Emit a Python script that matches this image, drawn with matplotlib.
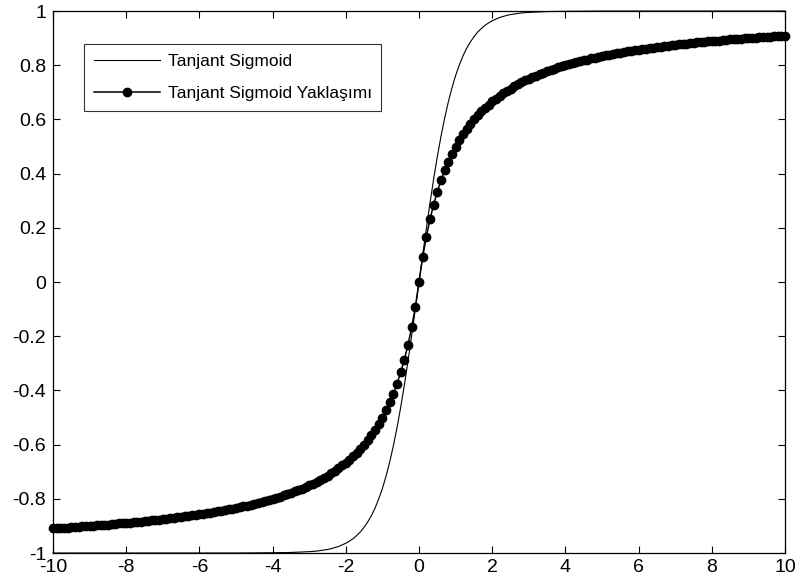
import numpy as np
import matplotlib
matplotlib.use("Agg")
import matplotlib.pyplot as plt
from matplotlib.ticker import FuncFormatter

plt.rcParams['font.family'] = ['Liberation Sans', 'DejaVu Sans']
plt.rcParams['axes.unicode_minus'] = False

# Approximation samples, x = -10 .. 10 step 0.1
x_approx = np.linspace(-10, 10, 201)
y_approx = [
    -0.909, -0.908, -0.907, -0.907, -0.906, -0.905, -0.904, -0.903, -0.902, -0.901,
    -0.900, -0.899, -0.898, -0.897, -0.896, -0.895, -0.894, -0.892, -0.891, -0.890,
    -0.889, -0.888, -0.886, -0.885, -0.884, -0.882, -0.881, -0.880, -0.878, -0.877,
    -0.875, -0.873, -0.872, -0.870, -0.868, -0.867, -0.865, -0.863, -0.861, -0.859,
    -0.857, -0.855, -0.853, -0.851, -0.848, -0.846, -0.844, -0.841, -0.839, -0.836,
    -0.833, -0.831, -0.828, -0.825, -0.821, -0.818, -0.815, -0.811, -0.808, -0.804,
    -0.800, -0.796, -0.792, -0.787, -0.783, -0.778, -0.773, -0.767, -0.762, -0.756,
    -0.750, -0.744, -0.737, -0.730, -0.722, -0.714, -0.706, -0.697, -0.688, -0.677,
    -0.667, -0.655, -0.643, -0.630, -0.615, -0.600, -0.583, -0.565, -0.545, -0.524,
    -0.500, -0.474, -0.444, -0.412, -0.375, -0.333, -0.286, -0.231, -0.167, -0.091,
    0.000,
    0.091, 0.167, 0.231, 0.286, 0.333, 0.375, 0.412, 0.444, 0.474, 0.500,
    0.524, 0.545, 0.565, 0.583, 0.600, 0.615, 0.630, 0.643, 0.655, 0.667,
    0.677, 0.688, 0.697, 0.706, 0.714, 0.722, 0.730, 0.737, 0.744, 0.750,
    0.756, 0.762, 0.767, 0.773, 0.778, 0.783, 0.787, 0.792, 0.796, 0.800,
    0.804, 0.808, 0.811, 0.815, 0.818, 0.821, 0.825, 0.828, 0.831, 0.833,
    0.836, 0.839, 0.841, 0.844, 0.846, 0.848, 0.851, 0.853, 0.855, 0.857,
    0.859, 0.861, 0.863, 0.865, 0.867, 0.868, 0.870, 0.872, 0.873, 0.875,
    0.877, 0.878, 0.880, 0.881, 0.882, 0.884, 0.885, 0.886, 0.888, 0.889,
    0.890, 0.891, 0.892, 0.894, 0.895, 0.896, 0.897, 0.898, 0.899, 0.900,
    0.901, 0.902, 0.903, 0.904, 0.905, 0.906, 0.907, 0.907, 0.908, 0.909,
]

# Tangent sigmoid curve samples
x_tanh = [-10, -5, -4, -3.5,
          -3.0, -2.9, -2.8, -2.7, -2.6, -2.5, -2.4, -2.3, -2.2, -2.1,
          -2.0, -1.9, -1.8, -1.7, -1.6, -1.5, -1.4, -1.3, -1.2, -1.1,
          -1.0, -0.9, -0.8, -0.7, -0.6, -0.5, -0.4, -0.3, -0.2, -0.1,
          0.0,
          0.1, 0.2, 0.3, 0.4, 0.5, 0.6, 0.7, 0.8, 0.9, 1.0,
          1.1, 1.2, 1.3, 1.4, 1.5, 1.6, 1.7, 1.8, 1.9, 2.0,
          2.1, 2.2, 2.3, 2.4, 2.5, 2.6, 2.7, 2.8, 2.9, 3.0,
          3.5, 4, 5, 10]
y_tanh = [-1.0, -1.0, -0.999, -0.998,
          -0.995, -0.994, -0.993, -0.991, -0.989, -0.987, -0.984, -0.980, -0.976, -0.970,
          -0.964, -0.956, -0.947, -0.935, -0.922, -0.905, -0.885, -0.862, -0.834, -0.800,
          -0.762, -0.716, -0.664, -0.604, -0.537, -0.462, -0.380, -0.291, -0.197, -0.100,
          0.000,
          0.100, 0.197, 0.291, 0.380, 0.462, 0.537, 0.604, 0.664, 0.716, 0.762,
          0.800, 0.834, 0.862, 0.885, 0.905, 0.922, 0.935, 0.947, 0.956, 0.964,
          0.970, 0.976, 0.980, 0.984, 0.987, 0.989, 0.991, 0.993, 0.994, 0.995,
          0.998, 0.999, 1.0, 1.0]

x_ticks = [-10, -8, -6, -4, -2, 0, 2, 4, 6, 8, 10]
y_ticks = [-1, -0.8, -0.6, -0.4, -0.2, 0, 0.2, 0.4, 0.6, 0.8, 1]

labels = ['Tanjant Sigmoid', 'Tanjant Sigmoid Yaklaşımı']

fig = plt.figure(figsize=(8.0, 5.87), dpi=100)
ax = fig.add_axes([0.06625, 0.0579, 0.915, 0.9233])

ax.plot(x_tanh, y_tanh, color='black', linewidth=0.8, label=labels[0], clip_on=False)
ax.plot(x_approx, y_approx, color='black', linewidth=1.1, marker='o',
        markersize=6, markerfacecolor='black', markeredgecolor='black',
        label=labels[1], clip_on=False)

ax.set_xlim(-10, 10)
ax.set_ylim(-1, 1)
ax.set_xticks(x_ticks)
ax.set_yticks(y_ticks)
ax.xaxis.set_major_formatter(FuncFormatter(lambda v, p: '%g' % v))
ax.yaxis.set_major_formatter(FuncFormatter(lambda v, p: '%g' % round(v, 1)))
ax.tick_params(direction='in', top=True, right=True, length=5, width=0.8,
               labelsize=14)
ax.tick_params(axis='x', pad=4)
ax.tick_params(axis='y', pad=5)
for s in ax.spines.values():
    s.set_linewidth(0.9)

leg = ax.legend(loc='upper left', bbox_to_anchor=(0.0426, 0.939), frameon=True,
                fancybox=False, edgecolor='black', fontsize=12.5, numpoints=1,
                handlelength=3.8, borderpad=0.55, labelspacing=1.0,
                handletextpad=0.45, borderaxespad=0)
leg.get_frame().set_linewidth(0.8)

fig.savefig('out.png', dpi=100)
